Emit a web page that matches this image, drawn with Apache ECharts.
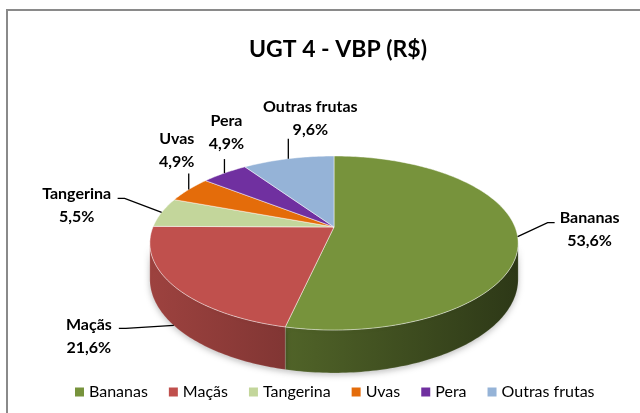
<!DOCTYPE html>
<html>
<head>
<meta charset="utf-8">
<title>UGT 4 - VBP (R$)</title>
<script src="https://cdn.jsdelivr.net/npm/echarts@6/dist/echarts.min.js"></script>
<style>
  html, body { margin: 0; padding: 0; background: #fff; }
  #chart { width: 640px; height: 413px; }
</style>
</head>
<body>
<div id="chart"></div>
<script>
// dados do gráfico
var frutas = ['Bananas', 'Maçãs', 'Tangerina', 'Uvas', 'Pera', 'Outras frutas'];
var percentuais = [53.6, 21.6, 5.5, 4.9, 4.9, 9.6];
var cores = ['#77933C', '#C0504D', '#C3D69B', '#E46C0A', '#7030A0', '#95B3D7'];

// pizza 3D em perspectiva (parecida com a do Excel)
var CX = 334, CY = 227;      // vértice da pizza na tela
var RX = 181;                // raio horizontal
var A = 42.3, C = -0.184;    // achatamento + perspectiva
var H = 35;                  // espessura
var FONTE = 'Lato';

// fim da linha do rótulo em relação ao ponto da fatia, e centro do texto em relação ao fim da linha
var rotuloLinha = [[37, -14], [-55, 3], [-44, -14], [0, -16], [0, -14], [0, -20]];
var rotuloTexto = [[35, 7], [-30, 8], [-41, 7], [-12, -23], [2, -27], [22, -20]];

var total = percentuais.reduce(function (a, b) { return a + b; }, 0);
var inicio = [], fim = [];
var acc = 0;
percentuais.forEach(function (v) {
  inicio.push(acc / total * Math.PI * 2);
  acc += v;
  fim.push(acc / total * Math.PI * 2);
});

// ângulo 0 = topo (fundo da pizza), sentido horário
function proj(t, desce) {
  var u = -Math.cos(t), v = Math.sin(t);
  var den = 1 + C * u;
  return [CX + RX * v / den, (CY + A * u + H * desce) / den];
}
function arco(t0, t1, desce) {
  var pts = [];
  var n = Math.max(2, Math.ceil((t1 - t0) / (Math.PI / 180)));
  for (var k = 0; k <= n; k++) pts.push(proj(t0 + (t1 - t0) * k / n, desce));
  return pts;
}
// faixa da lateral que aparece (entre as bordas esquerda/direita)
var tL = Math.acos(C), tR = Math.PI * 2 - Math.acos(C);
var xEsq = proj(tR, 0)[0], xDir = proj(tL, 0)[0];

function escurece(hex, f) {
  var n = parseInt(hex.slice(1), 16);
  var r = Math.round((n >> 16 & 255) * f), g = Math.round((n >> 8 & 255) * f), b = Math.round((n & 255) * f);
  return 'rgb(' + r + ',' + g + ',' + b + ')';
}
function pct(v) { return v.toFixed(1).replace('.', ',') + '%'; }

var dados = percentuais.map(function (v, i) { return { name: frutas[i], value: v }; });

var chart = echarts.init(document.getElementById('chart'), null, { renderer: 'canvas' });
chart.setOption({
  animation: false,
  backgroundColor: '#fff',
  title: {
    text: 'UGT 4 - VBP (R$)',
    left: 333,
    textAlign: 'center',
    top: 33,
    textStyle: { fontFamily: FONTE, fontWeight: 'bold', fontSize: 23, color: '#000' }
  },
  legend: {
    top: 379,
    left: 70,
    icon: 'rect',
    itemWidth: 9,
    itemHeight: 9,
    itemGap: 21,
    textStyle: { fontFamily: FONTE, fontSize: 16, color: '#000' },
    data: frutas
  },
  graphic: [{
    type: 'rect',
    shape: { x: 7, y: 10, width: 700, height: 500 },
    style: { fill: 'none', stroke: '#8a8a8a', lineWidth: 2 },
    silent: true
  }],
  series: [
    {
      // só para a legenda
      type: 'pie',
      radius: [0, 0],
      center: [CX, CY],
      silent: true,
      label: { show: false },
      data: dados.map(function (d, i) {
        return { name: d.name, value: d.value, itemStyle: { color: cores[i] } };
      })
    },
    {
      name: 'lateral',
      type: 'custom',
      coordinateSystem: 'none',
      silent: true,
      z: 2,
      data: dados,
      renderItem: function (params, api) {
        var i = params.dataIndex;
        var s = Math.max(inicio[i], tL), e = Math.min(fim[i], tR);
        if (e <= s) return { type: 'group', children: [] };
        var pts = arco(s, e, 0).concat(arco(s, e, 1).reverse());
        return {
          type: 'polygon',
          shape: { points: pts },
          style: {
            fill: new echarts.graphic.LinearGradient(xEsq, 0, xDir, 0, [
              { offset: 0, color: escurece(cores[i], 0.82) },
              { offset: 0.45, color: escurece(cores[i], 0.64) },
              { offset: 1, color: escurece(cores[i], 0.38) }
            ], true),
            stroke: 'rgba(255,255,255,0.25)',
            lineWidth: 0.6,
            shadowBlur: 6,
            shadowColor: 'rgba(0,0,0,0.25)',
            shadowOffsetY: 2
          }
        };
      }
    },
    {
      name: 'topo',
      type: 'custom',
      coordinateSystem: 'none',
      silent: true,
      z: 3,
      data: dados,
      renderItem: function (params, api) {
        var i = params.dataIndex;
        var pts = [[CX, CY]].concat(arco(inicio[i], fim[i], 0));
        return {
          type: 'polygon',
          shape: { points: pts },
          style: { fill: cores[i], stroke: 'rgba(255,255,255,0.6)', lineWidth: 0.8 }
        };
      }
    },
    {
      name: 'rotulos',
      type: 'custom',
      coordinateSystem: 'none',
      silent: true,
      z: 4,
      data: dados,
      renderItem: function (params, api) {
        var i = params.dataIndex;
        var meio = (inicio[i] + fim[i]) / 2;
        var ancora = proj(meio, meio > tL && meio < tR ? 1 : 0);
        var dl = rotuloLinha[i];
        var ponta = [ancora[0] + dl[0], ancora[1] + dl[1]];
        var linha = [ancora];
        if (dl[0] !== 0) linha.push([ponta[0] - Math.sign(dl[0]) * 7, ponta[1]]);
        linha.push(ponta);
        var dt = rotuloTexto[i];
        return {
          type: 'group',
          children: [
            {
              type: 'polyline',
              shape: { points: linha },
              style: { stroke: '#000', lineWidth: 1.3, fill: null }
            },
            {
              type: 'text',
              x: ponta[0] + dt[0],
              y: ponta[1] + dt[1],
              style: {
                text: frutas[i] + '\n' + pct(percentuais[i]),
                fill: '#000',
                fontFamily: FONTE,
                fontWeight: 'bold',
                fontSize: 16,
                lineHeight: 23,
                align: 'center',
                verticalAlign: 'middle'
              }
            }
          ]
        };
      }
    }
  ]
});
</script>
</body>
</html>
